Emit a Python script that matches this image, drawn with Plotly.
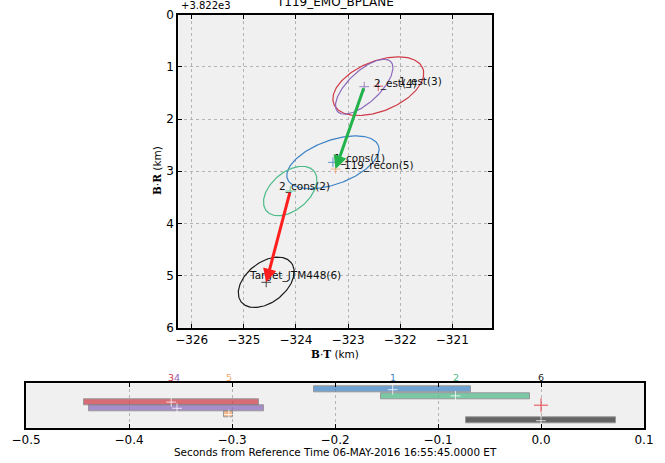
import numpy as np
import plotly.graph_objects as go

# ---------------- data ----------------
BR_OFFSET = 3822.0
names = ['1_cons(1)', '2_cons(2)', '1_est(3)', '2_est(4)', '119_recon(5)', 'Target_JTM448(6)']
bt = [-323.29, -324.11, -322.42, -322.69, -323.24, -324.57]          # B.T (km)
br = [3824.83, 3825.38, 3823.37, 3823.38, 3824.96, 3827.13]          # B.R (km)
semi_major = [0.93, 0.595, 0.92, 0.70, None, 0.61]                   # km
semi_minor = [0.42, 0.365, 0.48, 0.30, None, 0.385]                  # km
angle_deg = [20, 40, 22, 43, None, 38]
arrows = [(3, 4), (1, 5)]   # from index -> to index

event_ids = ['1', '2', '3', '4', '5', '6']
t_start = [-0.220, -0.155, -0.4434, -0.4385, -0.3075, -0.073]
t_end = [-0.068, -0.011, -0.274, -0.2686, -0.2987, 0.0725]
t_center = [-0.144, -0.083, -0.359, -0.3534, -0.303, 0.0]
ref_time = 0.0

# ---------------- style ----------------
colors = ['#3d84c6', '#4dbb89', '#cf3a46', '#8c69bb', '#f5a768', '#1a1a1a']
bar_colors = ['#3d84c6', '#4dbb89', '#cf3a46', '#8c69bb', '#f5a768', '#2e2e2e']
arrow_colors = ['#22b34a', '#ff1f1f']
label_shift = [(-1, 4), (-13, 5), (19, 5), (8, 3), (6, 4), (-19, 7)]
W, H = 665, 463
FONT = 'DejaVu Sans'

def px_x(p):
    return p / W

def px_y(p):
    return 1 - p / H

fig = go.Figure()

brr = [v - BR_OFFSET for v in br]

# ellipses
t = np.linspace(0, 2 * np.pi, 200)
for i in range(len(names)):
    if semi_major[i] is None:
        continue
    th = np.deg2rad(angle_deg[i])
    a, b = semi_major[i], semi_minor[i]
    ex = bt[i] + a * np.cos(t) * np.cos(th) - b * np.sin(t) * np.sin(th)
    ey_up = a * np.cos(t) * np.sin(th) + b * np.sin(t) * np.cos(th)
    ey = brr[i] - ey_up
    fig.add_trace(go.Scatter(x=ex, y=ey, mode='lines', line=dict(color=colors[i], width=1.2),
                             hoverinfo='skip', showlegend=False, xaxis='x', yaxis='y'))

# points
for i in range(len(names)):
    fig.add_trace(go.Scatter(x=[bt[i]], y=[brr[i]], mode='markers',
                             marker=dict(symbol='cross-thin', size=7,
                                         line=dict(color=colors[i], width=1)),
                             opacity=0.8, showlegend=False, xaxis='x', yaxis='y'))

annotations = []
for i in range(len(names)):
    dx, dy = label_shift[i]
    annotations.append(dict(x=bt[i], y=brr[i], xref='x', yref='y', text=names[i],
                            showarrow=False, xanchor='left', yanchor='middle',
                            xshift=dx, yshift=dy, font=dict(family=FONT, size=10.5, color='#111')))

for k, (s, e) in enumerate(arrows):
    annotations.append(dict(x=bt[e], y=brr[e], ax=bt[s], ay=brr[s], xref='x', yref='y',
                            axref='x', ayref='y', text='', showarrow=True, arrowhead=2,
                            arrowsize=0.9, arrowwidth=3, arrowcolor=arrow_colors[k], standoff=0))

# timeline bars
for i in range(len(event_ids)):
    fig.add_trace(go.Bar(y=[i + 1], x=[t_end[i] - t_start[i]], base=[t_start[i]], orientation='h',
                         width=0.95, marker=dict(color=bar_colors[i], opacity=0.72,
                                                 line=dict(color='#777777', width=1)),
                         showlegend=False, xaxis='x2', yaxis='y2'))
fig.add_trace(go.Scatter(x=t_center, y=[i + 1 for i in range(len(event_ids))], mode='markers',
                         marker=dict(symbol='cross-thin', size=7,
                                     line=dict(color='rgba(255,255,255,0.75)', width=1)),
                         showlegend=False, xaxis='x2', yaxis='y2'))
fig.add_trace(go.Scatter(x=[ref_time], y=[3.5], mode='markers',
                         marker=dict(symbol='cross-thin', size=10, line=dict(color='#e8474f', width=1)),
                         showlegend=False, xaxis='x2', yaxis='y2'))
for i in range(len(event_ids)):
    annotations.append(dict(x=t_center[i], y=px_y(383.3), xref='x2', yref='paper', text=event_ids[i],
                            showarrow=False, xanchor='center', yanchor='bottom', yshift=-2,
                            font=dict(family=FONT, size=9.5, color=colors[i])))

# titles / labels
annotations += [
    dict(x=px_x(334.5), y=px_y(2.5), xref='paper', yref='paper', text='T119_EMO_BPLANE',
         showarrow=False, xanchor='center', yanchor='middle', font=dict(family=FONT, size=12, color='black')),
    dict(x=px_x(179), y=px_y(5.5), xref='paper', yref='paper', text='+3.822e3',
         showarrow=False, xanchor='left', yanchor='middle', font=dict(family=FONT, size=10, color='black')),
    dict(x=px_x(335), y=px_y(354), xref='paper', yref='paper',
         text='<span style="font-family:DejaVu Serif"><b>B</b></span>·<span style="font-family:DejaVu Serif"><b>T</b></span> (km)',
         showarrow=False, xanchor='center', yanchor='middle', font=dict(family=FONT, size=10.5, color='black')),
    dict(x=px_x(157), y=px_y(171), xref='paper', yref='paper', textangle=-90,
         text='<span style="font-family:DejaVu Serif"><b>B</b></span>·<span style="font-family:DejaVu Serif"><b>R</b></span> (km)',
         showarrow=False, xanchor='center', yanchor='middle', font=dict(family=FONT, size=10.5, color='black')),
    dict(x=px_x(335), y=px_y(452), xref='paper', yref='paper',
         text='Seconds from Reference Time 06-MAY-2016 16:55:45.0000 ET',
         showarrow=False, xanchor='center', yanchor='middle', font=dict(family=FONT, size=10.4, color='black')),
]

axis_common = dict(showline=True, linecolor='black', linewidth=2, mirror='ticks', ticks='inside',
                   ticklen=4, tickcolor='black', gridcolor='#b4b4b4', griddash='dot', gridwidth=1,
                   zeroline=False, automargin=False, tickfont=dict(family=FONT, size=12, color='black'))

fig.update_layout(
    template='none',
    width=W, height=H, margin=dict(l=0, r=0, t=0, b=0, pad=0), autosize=False,
    paper_bgcolor='white', plot_bgcolor='#f0f0f0',
    bargap=0, barmode='overlay',
    xaxis=dict(domain=[px_x(178.3), px_x(491.7)], range=[-326.257, -320.244],
               tickvals=[-326, -325, -324, -323, -322, -321], showgrid=True, anchor='y', **axis_common),
    yaxis=dict(domain=[px_y(327.7), px_y(14.7)], range=[6, 0], tickvals=[0, 1, 2, 3, 4, 5, 6],
               showgrid=True, anchor='x', **axis_common),
    xaxis2=dict(domain=[px_x(26), px_x(644)], range=[-0.5, 0.1],
                tickvals=[-0.5, -0.4, -0.3, -0.2, -0.1, 0.0, 0.1], tickformat='.1f',
                showgrid=True, anchor='y2', **axis_common),
    yaxis2=dict(domain=[px_y(427.7), px_y(383.3)], range=[7.13, -0.03], showticklabels=False,
                showgrid=False, showline=True, linecolor='black', linewidth=2, mirror=True,
                ticks='', zeroline=False, automargin=False, anchor='x2'),
    annotations=annotations,
    showlegend=False,
)

fig.write_html('out.html')
